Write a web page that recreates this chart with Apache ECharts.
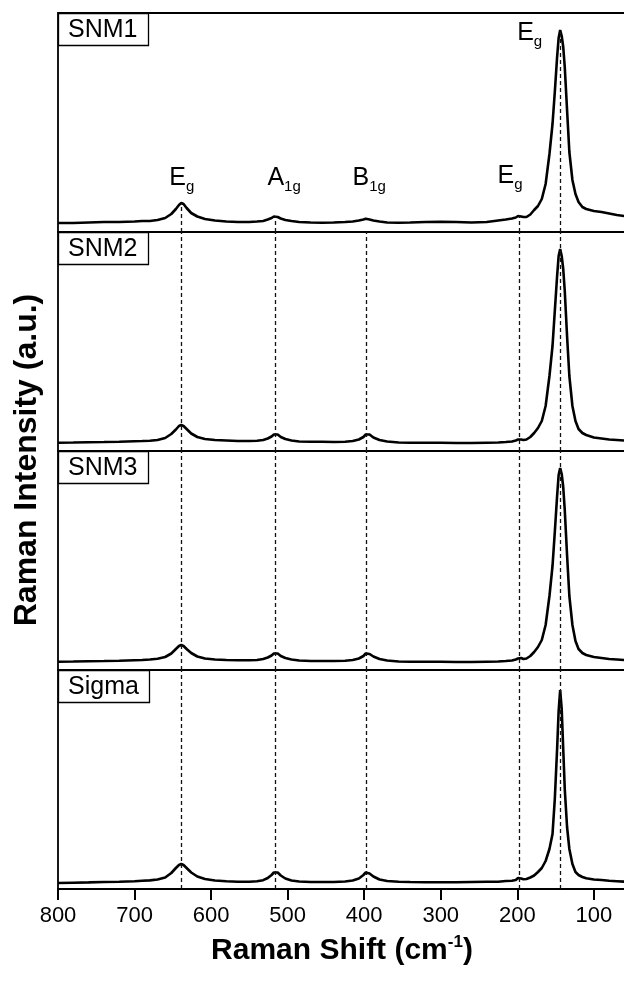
<!DOCTYPE html>
<html>
<head>
<meta charset="utf-8">
<title>Raman spectra</title>
<script src="https://cdn.jsdelivr.net/npm/echarts@6.0.0/dist/echarts.min.js"></script>
<style>
  html, body { margin: 0; padding: 0; background: #fff; }
  #chart { width: 624px; height: 982px; }
</style>
</head>
<body>
<div id="chart"></div>
<script>
// Raman shift (cm-1) sample points, shared by all four spectra
var shift = [
  800, 780, 760, 740, 720, 700, 690, 680, 670, 660,
  652, 646, 642, 639, 636, 632, 626, 618, 608, 595,
  580, 565, 550, 540, 532, 526, 521, 518, 516, 513,
  509, 503, 495, 485, 470, 455, 440, 425, 415, 407,
  401, 398, 396, 393, 388, 380, 370, 355, 340, 320,
  300, 280, 260, 240, 225, 215, 207, 202, 199, 197,
  195, 192, 188, 183, 178, 173, 168, 163, 158, 154,
  151, 148, 146, 144, 142, 140, 138, 135, 132, 128,
  124, 120, 115, 110, 100, 90, 80, 70, 60
];
// intensities (a.u., each panel scaled 0..219)
var snm1 = [
  9, 9, 9.5, 10, 10, 10.5, 11, 11, 12, 14,
  18, 23, 27, 29, 28, 24, 19, 15.5, 13, 11.5,
  10.5, 10, 10, 10.5, 11, 12.5, 14, 15.5, 16, 15,
  13.5, 12, 11, 10, 9.5, 9.3, 9.5, 10, 10.5, 11.5,
  12.5, 13.3, 13, 12.5, 11.5, 10.5, 9.5, 9.3, 9.5, 10,
  10.3, 10, 9.5, 10, 11.5, 12.5, 13.5, 14.5, 16, 16.5,
  15.5, 15, 15, 17.5, 22, 26, 33, 48, 78, 108,
  140, 175, 194, 202, 196, 185, 165, 122, 80, 52,
  38, 30, 25, 23, 21, 20, 18.5, 17, 16
];
var snm2 = [
  8.3, 8.5, 8.8, 9, 9.3, 9.8, 10, 10.3, 11, 13,
  17, 21.5, 25, 26, 25, 22, 17.5, 14, 12, 11,
  10.5, 10, 10, 10.3, 11, 12.5, 14.5, 16.5, 17.7, 16.5,
  14, 12, 10.5, 9.5, 9.3, 9.3, 9, 9.3, 10, 11.5,
  14, 16.5, 17.7, 16.5, 13.5, 11, 9.5, 8.5, 8.3, 8.3,
  8.3, 8, 8, 8.3, 8.5, 9, 9.5, 10.5, 11.5, 12,
  11.5, 11, 11.5, 14, 18, 23, 30, 45, 75, 105,
  140, 175, 195, 202, 195, 182, 160, 115, 75, 45,
  30, 22, 18, 16, 13.5, 12.5, 11.5, 11, 10.5
];
var snm3 = [
  8.3, 8.5, 8.8, 9, 9.3, 9.8, 10, 10.5, 11.3, 13,
  16.5, 21, 24, 25, 24, 21, 17, 13.5, 11.5, 10.5,
  10, 9.8, 9.8, 10, 11, 12.5, 14.5, 16.5, 17.5, 16.5,
  14, 12, 10.5, 9.5, 9, 9, 9, 9.3, 10, 11.5,
  14, 16.5, 17, 16, 13.5, 11, 9.5, 8.5, 8.3, 8.3,
  8.3, 8, 8, 8.3, 8.5, 9, 9.5, 10.5, 11.5, 12.5,
  12, 11, 11.5, 14, 18, 23, 30, 45, 74, 104,
  138, 174, 195, 202, 196, 183, 160, 115, 74, 45,
  29, 21, 17, 15, 13, 12, 11, 10.5, 10
];
var sigma = [
  6, 6.3, 6.6, 7, 7.3, 7.8, 8.2, 8.6, 9.5, 11.5,
  16, 21, 24, 25, 24, 21, 16.5, 12.5, 10, 8.5,
  7.8, 7.3, 7.3, 7.8, 8.8, 11, 14, 16.5, 17.5, 16.5,
  13.5, 10.5, 8.5, 7.5, 7, 7, 7, 7.5, 8.5, 10.5,
  14, 16.5, 17, 15.5, 12.5, 9.5, 8, 7.3, 7, 6.8,
  6.8, 6.8, 7, 7.2, 7.3, 8, 8.3, 9, 11, 12.5,
  10.5, 9.7, 10, 11.5, 13.5, 17, 21, 28, 40, 55,
  90, 140, 178, 199, 180, 140, 100, 62, 40, 25,
  17, 14, 12, 10.7, 9.5, 9, 8.3, 7.8, 7.3
];
var panelNames = ['SNM1', 'SNM2', 'SNM3', 'Sigma'];
var peakShift = [639, 516, 397, 197, 144];
var peakMain = ['E', 'A', 'B', 'E', 'E'];
var peakSub = ['g', '1g', '1g', 'g', 'g'];
var xTickVals = [800, 700, 600, 500, 400, 300, 200, 100];

var spectra = [snm1, snm2, snm3, sigma];
var FONT = "'Liberation Sans', Arial, sans-serif";
var top0 = 13, panelH = 219;
// where the peak names sit in panel 1: [x offset px, y level]
var labelPos = [[-12, 66], [-8, 66], [-14, 66], [-22, 68], [-43, 211]];

function pairs(ys) {
  return shift.map(function (x, i) { return [x, ys[i]]; });
}
function valueAt(ys, x) {
  return ys[shift.indexOf(x)];
}

var chart = echarts.init(document.getElementById('chart'));

var grids = [], xAxes = [], yAxes = [], series = [], titles = [];
for (var i = 0; i < 4; i++) {
  var last = i === 3;
  grids.push({
    left: 58, right: -2, top: top0 + i * panelH, height: panelH,
    show: true, borderColor: '#000', borderWidth: 1.8,
    backgroundColor: 'transparent', outerBoundsMode: 'none'
  });
  xAxes.push({
    type: 'value', gridIndex: i, min: 58, max: 800, inverse: true,
    splitLine: { show: false },
    axisLine: { show: last, lineStyle: { color: '#000', width: 1.8 } },
    axisTick: {
      show: last, inside: false, length: 11, customValues: xTickVals,
      lineStyle: { color: '#000', width: 2 }
    },
    axisLabel: {
      show: last, customValues: xTickVals, margin: 16,
      fontSize: 22, color: '#000', fontFamily: FONT
    },
    name: last ? '{a|Raman Shift (cm}{s|-1}{a|)}' : '',
    nameLocation: 'middle', nameGap: 45,
    nameTextStyle: {
      rich: {
        a: { fontSize: 30, fontWeight: 'bold', fontFamily: FONT, color: '#000', lineHeight: 34 },
        s: { fontSize: 17, fontWeight: 'bold', fontFamily: FONT, color: '#000', verticalAlign: 'top', lineHeight: 20 }
      }
    }
  });
  yAxes.push({ type: 'value', gridIndex: i, min: 0, max: panelH, show: false });
  titles.push({
    text: panelNames[i], left: 58, top: top0 + i * panelH,
    padding: [5, 11, 3, 10], borderColor: '#000', borderWidth: 1.3,
    textStyle: { fontSize: 25, fontWeight: 'normal', fontFamily: FONT, color: '#000', lineHeight: 25 }
  });

  var dashData;
  if (i === 0) {
    dashData = peakShift.map(function (x) {
      return [{ coord: [x, 0] }, { coord: [x, valueAt(snm1, x)] }];
    });
  } else {
    dashData = peakShift.map(function (x) { return { xAxis: x }; });
  }

  var s = {
    type: 'line', xAxisIndex: i, yAxisIndex: i, data: pairs(spectra[i]),
    showSymbol: false, symbol: 'none', silent: true,
    lineStyle: { color: '#000', width: 2.6 }, z: 3,
    markLine: {
      silent: true, symbol: 'none', animation: false,
      label: { show: false },
      lineStyle: { type: [4, 3], color: '#111', width: 1.3 },
      data: dashData
    }
  };
  if (i === 0) {
    s.markPoint = {
      symbol: 'circle', symbolSize: 0, animation: false, silent: true,
      data: peakShift.map(function (x, k) {
        return {
          coord: [x, labelPos[k][1]],
          label: {
            show: true, position: [labelPos[k][0], 0], align: 'left', verticalAlign: 'top',
            formatter: '{b|' + peakMain[k] + '}{s|' + peakSub[k] + '}',
            rich: {
              b: { fontSize: 25, fontFamily: FONT, color: '#000', lineHeight: 26, verticalAlign: 'top' },
              s: { fontSize: 15, fontFamily: FONT, color: '#000', lineHeight: 16, padding: [13, 0, 0, 0], verticalAlign: 'top' }
            }
          }
        };
      })
    };
  }
  series.push(s);
}

var option = {
  animation: false,
  backgroundColor: '#fff',
  title: titles,
  grid: grids,
  xAxis: xAxes,
  yAxis: yAxes,
  series: series,
  graphic: [{
    type: 'text', x: 27, y: 460, rotation: Math.PI / 2,
    style: {
      text: 'Raman Intensity (a.u.)', font: 'bold 32px ' + FONT, fill: '#000',
      align: 'center', verticalAlign: 'middle'
    }
  }]
};
chart.setOption(option);
</script>
</body>
</html>
